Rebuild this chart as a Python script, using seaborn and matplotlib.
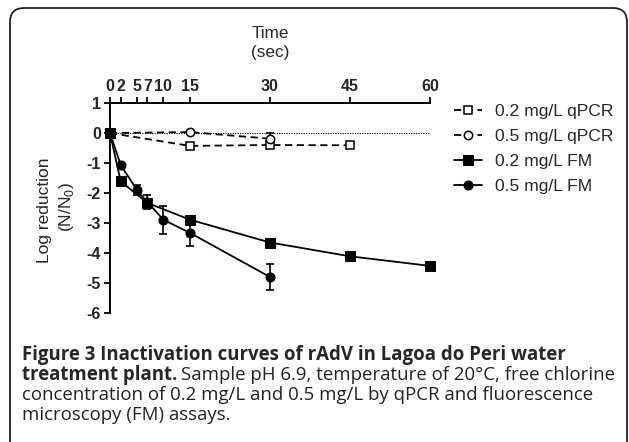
import numpy as np
import pandas as pd
import seaborn as sns
import matplotlib.pyplot as plt
from matplotlib.patches import FancyBboxPatch

# data
time_ticks = [0, 2, 5, 7, 10, 15, 30, 45, 60]
y_ticks = [1, 0, -1, -2, -3, -4, -5, -6]

qpcr02_t = [0, 15, 30, 45]
qpcr02_y = [0, -0.43, -0.40, -0.41]

qpcr05_t = [0, 15, 30]
qpcr05_y = [0, 0.03, -0.19]
qpcr05_err = [0, 0, 0.20]

fm02_t = [0, 2, 7, 15, 30, 45, 60]
fm02_y = [0, -1.61, -2.33, -2.89, -3.65, -4.11, -4.43]

fm05_t = [0, 2, 5, 7, 10, 15, 30]
fm05_y = [0, -1.06, -1.89, -2.30, -2.89, -3.33, -4.80]
fm05_err = [0, 0, 0.17, 0.22, 0.47, 0.45, 0.42]

sns.set_style("ticks")
plt.rcParams["font.family"] = ["Liberation Sans", "DejaVu Sans"]

W, H = 629, 442
fig = plt.figure(figsize=(W / 100, H / 100), dpi=100)

# plot area in pixel coords: x 110..430, y 103..313
ax = fig.add_axes([110 / W, 1 - 313 / H, 320 / W, 210 / H])

ax.plot([0, 60], [0, 0], ls=(0, (1, 1.2)), color="k", lw=0.8, zorder=1)

lw = 1.3
sns.lineplot(x=qpcr02_t, y=qpcr02_y, ax=ax, color="k", lw=lw, marker="s", markersize=6,
             markerfacecolor="white", markeredgecolor="k", markeredgewidth=1.1,
             linestyle=(0, (4, 2.5)), label="0.2 mg/L qPCR", clip_on=False, zorder=3)
sns.lineplot(x=qpcr05_t, y=qpcr05_y, ax=ax, color="k", lw=lw, marker="o", markersize=6,
             markerfacecolor="white", markeredgecolor="k", markeredgewidth=1.1,
             linestyle=(0, (4, 2.5)), label="0.5 mg/L qPCR", clip_on=False, zorder=3)
sns.lineplot(x=fm02_t, y=fm02_y, ax=ax, color="k", lw=lw, marker="s", markersize=6.5,
             markeredgecolor="k", label="0.2 mg/L FM", clip_on=False, zorder=4)
sns.lineplot(x=fm05_t, y=fm05_y, ax=ax, color="k", lw=lw, marker="o", markersize=6.5,
             markeredgecolor="k", label="0.5 mg/L FM", clip_on=False, zorder=4)

ax.errorbar(qpcr05_t, qpcr05_y, yerr=qpcr05_err, fmt="none", ecolor="k", elinewidth=1.2,
            capsize=3, capthick=1.2, zorder=2)
ax.errorbar(fm05_t, fm05_y, yerr=fm05_err, fmt="none", ecolor="k", elinewidth=1.2,
            capsize=3, capthick=1.2, zorder=2)

ax.set_xlim(0, 60)
ax.set_ylim(-6, 1)
ax.xaxis.tick_top()
ax.set_xticks(time_ticks)
ax.set_xticklabels([str(t) for t in time_ticks], fontweight="bold", fontsize=11.5)
ax.set_yticks(y_ticks)
ax.set_yticklabels([str(v) for v in y_ticks], fontweight="bold", fontsize=11.5)
ax.tick_params(axis="both", direction="out", length=4.5, width=1.3, color="k", pad=2)
for s in ["bottom", "right"]:
    ax.spines[s].set_visible(False)
for s in ["top", "left"]:
    ax.spines[s].set_linewidth(1.4)
    ax.spines[s].set_color("k")
ax.set_xlabel("")
ax.set_ylabel("")

fig.text(270 / W, 1 - 33 / H, "Time", ha="center", va="center", fontsize=12.3)
fig.text(270 / W, 1 - 53 / H, "(sec)", ha="center", va="center", fontsize=12.3)
fig.text(45 / W, 1 - 210 / H, "Log reduction", ha="center", va="center", fontsize=12.5, rotation=90)
fig.text(67 / W, 1 - 207 / H, "(N/N$_\\mathregular{0}$)", ha="center", va="center",
         fontsize=12.5, rotation=90)

leg = ax.legend(loc="upper left", bbox_to_anchor=(447 / W, 1 - 97 / H),
                bbox_transform=fig.transFigure, frameon=False, fontsize=12.6,
                handlelength=1.6, handletextpad=0.75, labelspacing=0.56, borderaxespad=0)

# caption
cap_font = ["Open Sans", "DejaVu Sans"]
cs = 13.4
fig.text(22 / W, 1 - 355 / H, "Figure 3 Inactivation curves of rAdV in Lagoa do Peri water",
         fontsize=cs, fontweight="bold", family=cap_font, va="center")
b = fig.text(22 / W, 1 - 375 / H, "treatment plant.", fontsize=cs, fontweight="bold",
             family=cap_font, va="center")
r = fig.canvas.get_renderer()
bx = b.get_window_extent(r).x1 / W
fig.text(bx + 4 / W, 1 - 375 / H, "Sample pH 6.9, temperature of 20°C, free chlorine",
         fontsize=cs, family=cap_font, va="center", color="#222222")
fig.text(22 / W, 1 - 395 / H, "concentration of 0.2 mg/L and 0.5 mg/L by qPCR and fluorescence",
         fontsize=cs, family=cap_font, va="center", color="#222222")
fig.text(22 / W, 1 - 415 / H, "microscopy (FM) assays.", fontsize=cs, family=cap_font,
         va="center", color="#222222")

# rounded frame, open at the bottom
frame = FancyBboxPatch((0.10, -0.2), 6.17, 4.54, boxstyle="round,pad=0,rounding_size=0.14",
                       transform=fig.dpi_scale_trans, fill=False, lw=1.3, edgecolor="#222222")
fig.patches.append(frame)

fig.savefig("out.png", dpi=100)
